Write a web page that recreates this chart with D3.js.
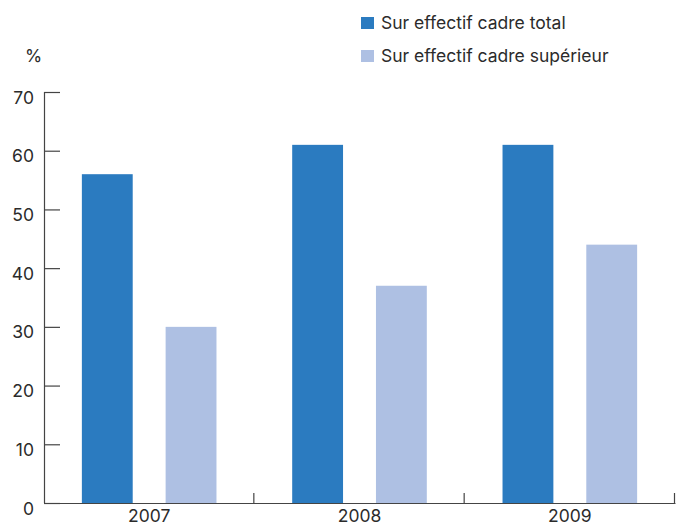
<!DOCTYPE html>
<html>
<head>
<meta charset="utf-8">
<script src="https://cdn.jsdelivr.net/npm/d3@7"></script>
<style>
  html, body { margin: 0; padding: 0; background: #fff; }
  svg { display: block; font-family: "Inter", "Roboto", sans-serif; }
</style>
</head>
<body>
<svg id="chart" width="676" height="523"></svg>
<script>
// Share of women among executives, by year
const years = ["2007", "2008", "2009"];
const seriesNames = ["Sur effectif cadre total", "Sur effectif cadre supérieur"];
const totalValues = [56, 61, 61];
const seniorValues = [30, 37, 44];
const yTicks = [0, 10, 20, 30, 40, 50, 60, 70];
const colors = ["#2b7bc0", "#aec0e3"];

const svg = d3.select("#chart");
const x0 = 44, x1 = 675, yBottom = 503, yTop = 92;
const textColor = "#2b2b2b";
const axisColor = "#444";
const fontSize = "17.5px";

const x = d3.scaleBand().domain(years).range([x0, x1]).paddingInner(0).paddingOuter(0);
const xInner = d3.scaleBand().domain([0, 1]).range([0, x.bandwidth()]).paddingInner(0.393).paddingOuter(0.452);
const y = d3.scaleLinear().domain([0, 70]).range([yBottom, yTop]);

const rows = years.map((yr, i) => ({ year: yr, values: [totalValues[i], seniorValues[i]] }));

// Bars
const groups = svg.append("g").selectAll("g").data(rows).join("g")
  .attr("transform", d => `translate(${x(d.year)},0)`);
groups.selectAll("rect").data(d => d.values.map((v, k) => ({ k, v }))).join("rect")
  .attr("x", d => xInner(d.k))
  .attr("width", xInner.bandwidth())
  .attr("y", d => y(d.v))
  .attr("height", d => y(0) - y(d.v))
  .attr("fill", d => colors[d.k]);

// Y axis: ticks drawn inward from the axis line, labels sitting slightly below each tick
const yAxis = d3.axisRight(y).tickValues(yTicks).tickSize(16).tickSizeOuter(0).tickFormat(d3.format("d"));
const gy = svg.append("g").attr("transform", `translate(${x0},0)`).call(yAxis);
gy.select(".domain").attr("stroke", axisColor).attr("stroke-width", 1.2)
  .attr("d", `M0.5,${yTop}V${yBottom}`);
gy.selectAll(".tick line").attr("stroke", axisColor).attr("stroke-width", 1.2);
gy.selectAll(".tick text").attr("x", -10).attr("dy", "0").attr("y", 11).attr("text-anchor", "end")
  .attr("fill", textColor).style("font-size", fontSize).style("font-family", "Inter, Roboto, sans-serif");

// X axis: separators between years pointing upward
const xAxis = d3.axisBottom(x).tickSize(0).tickSizeOuter(0);
const gx = svg.append("g").attr("transform", `translate(0,${yBottom})`).call(xAxis);
gx.select(".domain").attr("stroke", axisColor).attr("stroke-width", 1.2);
gx.selectAll(".tick text").attr("dy", "0").attr("y", 18.5)
  .attr("fill", textColor).style("font-size", fontSize).style("font-family", "Inter, Roboto, sans-serif");
const seps = years.slice(1).map(yr => x(yr)).concat([x1]);
gx.selectAll(".sep").data(seps).join("line").attr("class", "sep")
  .attr("x1", d => d - 0.5).attr("x2", d => d - 0.5).attr("y1", -10).attr("y2", 0)
  .attr("stroke", axisColor).attr("stroke-width", 1.2);

// Unit label
svg.append("text").attr("x", 25).attr("y", 62).text("%")
  .attr("fill", textColor).style("font-size", fontSize);

// Legend
const legend = svg.append("g").selectAll("g").data(seriesNames).join("g")
  .attr("transform", (d, i) => `translate(361,${17 + i * 33})`);
legend.append("rect").attr("width", 13).attr("height", 12).attr("fill", (d, i) => colors[i]);
legend.append("text").attr("x", 20).attr("y", 12).text(d => d)
  .attr("fill", textColor).style("font-size", fontSize);
</script>
</body>
</html>
